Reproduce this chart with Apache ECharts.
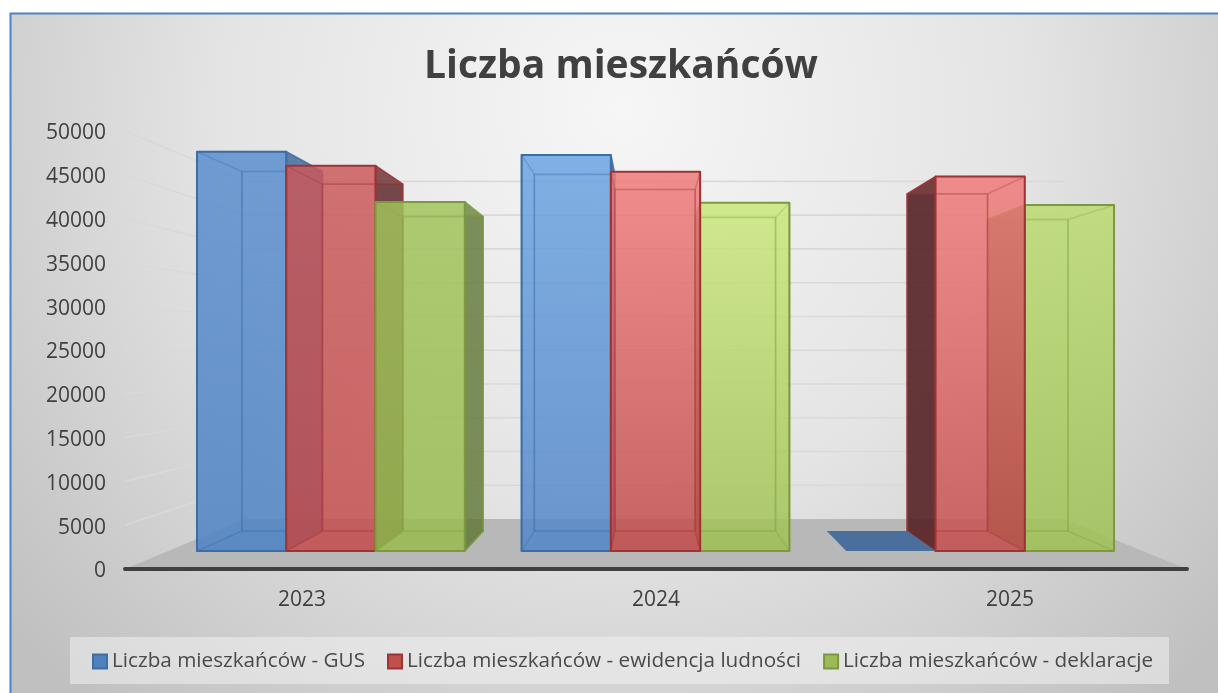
<!DOCTYPE html>
<html>
<head>
<meta charset="utf-8">
<title>Liczba mieszkańców</title>
<style>
  html, body { margin: 0; padding: 0; background: #fff; }
  #chart { width: 1218px; height: 693px; }
</style>
<script src="https://cdn.jsdelivr.net/npm/echarts@6/dist/echarts.min.js"></script>
</head>
<body>
<div id="chart"></div>
<script>
const years = ['2023', '2024', '2025']
const gus = [49700, 49300, 0]
const ewidencja = [47950, 47200, 46600]
const deklaracje = [43450, 43350, 43050]
const gridValues = [0, 5000, 10000, 15000, 20000, 25000, 30000, 35000, 40000, 45000, 50000]

const FONT = '"Open Sans", sans-serif'

// fake 3D: everything is scaled towards one vanishing point
const VX = 650
const VY = 351
const S_FRONT = 0.917
const S_BACK = 0.826
const S_WALL = 0.771
const BAR_SHARE = 0.275

const palette = [
  { line: '#3a6ea5', dark: '#2f5a8c', side: '#4f81bd',
    front: [['#5a8ecf', '#4c82c4'], ['#6ba5e3', '#5386c8'], ['#4c82c4', '#4c82c4']] },
  { line: '#9c3436', dark: '#4f1c20', side: '#c0504d',
    front: [['#cc5a5c', '#c44c4c'], ['#f27c7c', '#c04a4a'], ['#f27c7c', '#c44e4e']] },
  { line: '#7b9a3f', dark: '#5b7030', side: '#9bbb59',
    front: [['#a2c45a', '#98bb4e'], ['#cdea7d', '#a0c054'], ['#bcdc70', '#a0c254']] }
]

const project = (p, s) => [VX + (p[0] - VX) * s, VY + (p[1] - VY) * s]

const vGrad = (pair) => ({
  type: 'linear', x: 0, y: 0, x2: 0, y2: 1,
  colorStops: [{ offset: 0, color: pair[0] }, { offset: 1, color: pair[1] }]
})

const barItem = (seriesIdx) => (params, api) => {
  const cat = api.value(0)
  const val = api.value(1)
  const top = api.coord([cat, val])
  const base = api.coord([cat, 0])
  const band = api.size([1, 0])[0]
  const w = band * BAR_SHARE
  const x0 = top[0] + (seriesIdx - 1.5) * w
  const x1 = x0 + w
  const c = palette[seriesIdx]

  // bars further from the vanishing point are painted first
  const dist = Math.abs((x0 + x1) / 2 - VX)
  const rank = Math.round(2000 - dist)
  let order = 0
  const poly = (points, fill, stroke, opacity, lineWidth) => ({
    type: 'polygon',
    z2: rank * 10 + order++,
    shape: { points },
    style: { fill, stroke, opacity, lineWidth, lineJoin: 'round' }
  })

  const fTL = project([x0, top[1]], S_FRONT)
  const fTR = project([x1, top[1]], S_FRONT)
  const fBR = project([x1, base[1]], S_FRONT)
  const fBL = project([x0, base[1]], S_FRONT)
  const bTL = project([x0, top[1]], S_BACK)
  const bTR = project([x1, top[1]], S_BACK)
  const bBR = project([x1, base[1]], S_BACK)
  const bBL = project([x0, base[1]], S_BACK)

  const children = []
  if (val === 0) {
    // empty bar: only the flat bottom is left on the floor
    children.push(poly([bBL, bBR, fBR, fBL], '#4a6f9d', 'none', 1, 0))
    return { type: 'group', children }
  }

  const faded = c.side
  // back, bottom
  children.push(poly([bTL, bTR, bBR, bBL], faded, c.line, 0.2, 1.6))
  children.push(poly([bBL, bBR, fBR, fBL], faded, c.line, 0.3, 1.6))
  // sides seen from outside are dark, from inside almost clear
  const rightOut = x1 * S_FRONT + VX * (1 - S_FRONT) < VX
  const leftOut = x0 * S_FRONT + VX * (1 - S_FRONT) > VX
  children.push(poly([fTL, bTL, bBL, fBL], leftOut ? c.dark : faded, c.line, leftOut ? 0.85 : 0.2, 1.6))
  children.push(poly([fTR, bTR, bBR, fBR], rightOut ? c.dark : faded, c.line, rightOut ? 0.75 : 0.2, 1.6))
  children.push(poly([fTL, fTR, bTR, bTL], faded, c.line, 0.2, 1.6))
  // front
  children.push(poly([fTL, fTR, fBR, fBL], vGrad(c.front[cat]), 'none', 0.8, 0))
  // edges of the box show through the glass
  children.push(poly([bTL, bTR, bBR, bBL], 'none', c.line, 0.3, 1.6))
  children.push(poly([fTL, bTL, bBL, fBL], 'none', c.line, 0.22, 1.4))
  children.push(poly([fTR, bTR, bBR, fBR], 'none', c.line, 0.22, 1.4))
  children.push(poly([fTL, fTR, fBR, fBL], 'none', c.line, 1, 2))
  return { type: 'group', children }
}

const wallItem = (params, api) => {
  const v = api.value(0)
  const left = api.coord([0, v])
  const band = api.size([1, 0])[0]
  const gridLeft = left[0] - band / 2
  const gridRight = gridLeft + band * years.length
  const a = [gridLeft, left[1]]
  const b = [gridRight, left[1]]
  return {
    type: 'polyline',
    shape: { points: [a, project(a, S_WALL), project(b, S_WALL)] },
    style: { fill: 'none', stroke: v === 0 ? 'transparent' : '#d9d9d9', lineWidth: 1.6 }
  }
}

const floorItem = (params, api) => {
  const left = api.coord([0, 0])
  const band = api.size([1, 0])[0]
  const gridLeft = left[0] - band / 2
  const gridRight = gridLeft + band * years.length
  const a = [gridLeft, left[1]]
  const b = [gridRight, left[1]]
  return {
    type: 'group',
    children: [
      {
        type: 'polygon',
        shape: { points: [a, b, project(b, S_WALL), project(a, S_WALL)] },
        style: { fill: '#b8b8b8' }
      },
      {
        type: 'line',
        z2: 50000,
        shape: { x1: a[0], y1: a[1], x2: b[0], y2: b[1] },
        style: { stroke: '#404040', lineWidth: 4, lineCap: 'round' }
      }
    ]
  }
}

const barSeries = (name, values, idx) => ({
  name,
  type: 'custom',
  z: 5,
  coordinateSystem: 'cartesian2d',
  data: values.map((v, i) => [i, v]),
  encode: { x: 0, y: 1 },
  clip: false,
  renderItem: barItem(idx),
  itemStyle: {
    color: palette[idx].side,
    borderColor: palette[idx].line,
    borderWidth: 2
  }
})

const chart = echarts.init(document.getElementById('chart'), null, { renderer: 'canvas' })

chart.setOption({
  animation: false,
  textStyle: { fontFamily: FONT },
  title: {
    text: 'Liczba mieszkańców',
    left: 616,
    top: 42,
    textAlign: 'center',
    textStyle: { fontSize: 39, fontWeight: 'bold', color: '#404040', fontFamily: FONT }
  },
  legend: {
    data: ['Liczba mieszkańców - GUS', 'Liczba mieszkańców - ewidencja ludności', 'Liczba mieszkańców - deklaracje'],
    left: 87,
    top: 646,
    icon: 'rect',
    itemWidth: 14,
    itemHeight: 14,
    itemGap: 22,
    textStyle: { fontSize: 20.7, color: '#4a4a4a', fontFamily: FONT }
  },
  grid: { left: 125, right: 31, top: 131, bottom: 124 },
  xAxis: {
    type: 'category',
    data: years,
    axisTick: { show: false },
    axisLine: { show: false },
    axisLabel: { fontSize: 21, color: '#404040', margin: 21, fontFamily: FONT }
  },
  yAxis: {
    type: 'value',
    min: 0,
    max: 50000,
    interval: 5000,
    axisLine: { show: false },
    axisTick: { show: false },
    splitLine: { show: false },
    axisLabel: {
      margin: 19,
      formatter: (v) => `{tick|${v}}`,
      rich: {
        tick: { fontSize: 21, color: '#404040', fontFamily: FONT, padding: [5, 0, 0, 0] }
      }
    }
  },
  graphic: [
    {
      type: 'rect',
      z: -10,
      silent: true,
      shape: { x: 10.5, y: 13.5, width: 1300, height: 800 },
      style: {
        fill: {
          type: 'radial', x: 0.47, y: 0.12, r: 1,
          colorStops: [
            { offset: 0, color: '#f6f6f6' },
            { offset: 0.5, color: '#e4e4e4' },
            { offset: 1, color: '#c0c0c0' }
          ]
        },
        stroke: '#4f81c8',
        lineWidth: 2
      }
    },
    {
      type: 'rect',
      z: -5,
      silent: true,
      shape: { x: 70, y: 637, width: 1099, height: 47 },
      style: { fill: 'rgba(240,240,240,0.55)' }
    }
  ],
  series: [
    {
      type: 'custom',
      z: 1,
      coordinateSystem: 'cartesian2d',
      data: [[0]],
      clip: false,
      silent: true,
      encode: { y: 0 },
      renderItem: floorItem
    },
    {
      type: 'custom',
      z: 2,
      coordinateSystem: 'cartesian2d',
      data: gridValues.map(v => [v]),
      clip: false,
      silent: true,
      encode: { y: 0 },
      renderItem: wallItem
    },
    barSeries('Liczba mieszkańców - GUS', gus, 0),
    barSeries('Liczba mieszkańców - ewidencja ludności', ewidencja, 1),
    barSeries('Liczba mieszkańców - deklaracje', deklaracje, 2)
  ]
})

window.addEventListener('resize', () => chart.resize())
</script>
</body>
</html>
